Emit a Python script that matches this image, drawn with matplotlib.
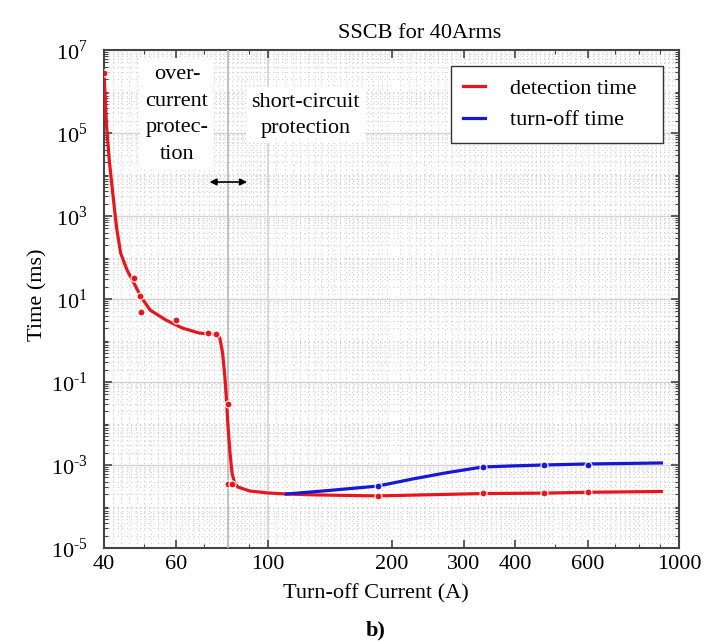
import numpy as np
import matplotlib
matplotlib.use("Agg")
import matplotlib.pyplot as plt
from matplotlib.ticker import FixedLocator, LogLocator, FixedFormatter, NullFormatter

plt.rcParams['font.family'] = ['Liberation Serif', 'DejaVu Serif']
plt.rcParams['mathtext.fontset'] = 'custom'
plt.rcParams['mathtext.rm'] = 'Liberation Serif'
plt.rcParams['font.size'] = 15

# detection time, fitted curve (A, ms)
det_curve_x = [40.0, 40.22, 40.6, 41.2, 42.0, 42.9, 43.9, 45.5, 47.3, 49.2, 51.8, 56.6, 62.0, 68.0,
               71.4, 75.0, 76.5, 77.7, 78.7, 79.4, 80.1, 81.0, 81.9, 83.1, 84.6, 90.5, 99.5, 111, 131,
               185, 333, 469, 602, 906]
det_curve_y = [2.79e6, 9.2e5, 1.4e5, 2.2e4, 3.6e3, 543, 128, 50, 24.3, 11.2, 5.4, 3.1, 2.0, 1.52,
               1.44, 1.43, 1.15, 0.50, 0.132, 0.037, 8.3e-3, 1.95e-3, 6.4e-4, 3.7e-4, 2.95e-4, 2.36e-4,
               2.13e-4, 2.0e-4, 1.9e-4, 1.8e-4, 2.05e-4, 2.1e-4, 2.2e-4, 2.3e-4]
# detection time, measured points
det_pts_x = [40.0, 47.3, 48.9, 49.2, 60.0, 71.5, 75.0, 80.0, 80.3, 82.1, 185, 333, 469, 602]
det_pts_y = [2.8e6, 32, 11.7, 4.9, 3.2, 1.52, 1.44, 0.03, 3.5e-4, 3.5e-4, 1.75e-4, 2.1e-4, 2.1e-4, 2.2e-4]

# turn-off time
off_curve_x = [111, 136, 185, 225, 272, 333, 393, 469, 602, 906]
off_curve_y = [2.0e-4, 2.36e-4, 3.1e-4, 4.6e-4, 6.5e-4, 8.95e-4, 9.5e-4, 1.0e-3, 1.06e-3, 1.12e-3]
off_pts_x = [185, 333, 469, 602]
off_pts_y = [3.1e-4, 8.9e-4, 1.0e-3, 1.02e-3]

xticks = [40, 60, 100, 200, 300, 400, 600, 1000]
xminor = [50, 70, 80, 90, 500, 700, 800, 900]
yexp = [-5, -3, -1, 1, 3, 5, 7]

red = '#e8161c'
blue = '#1717d8'
dotgrid = '#cdcdcd'

fig = plt.figure(figsize=(7.25, 6.41), dpi=100)
ax = fig.add_axes([104/725, 1-548/641, 575/725, 498/641])
ax.set_xscale('log')
ax.set_yscale('log')
ax.set_xlim(40, 1000)
ax.set_ylim(1e-5, 1e7)

# background grid: dense dotted mesh
gx = list(np.arange(42, 100, 2)) + list(np.arange(105, 200, 5)) + list(np.arange(210, 500, 10)) + list(np.arange(520, 1000, 20))
for g in gx:
    ax.axvline(g, color=dotgrid, lw=0.8, ls=(0, (1, 3)), zorder=0)
for k in range(-5, 7):
    for s in range(1, 10):
        v = s * 10.0**k
        if s == 1 and k % 2 == 1:
            ax.axhline(v, color='#d2d2d2', lw=1.0, zorder=0)
        else:
            ax.axhline(v, color=dotgrid, lw=0.8, ls=(0, (1, 3)), zorder=0)
ax.axvline(100, color='#d2d2d2', lw=1.2, zorder=0.5)
ax.axvline(80, color='#c0c0c0', lw=1.4, zorder=3)

ax.plot(det_curve_x, det_curve_y, color=red, lw=2.3, zorder=4, label='detection time',
        solid_joinstyle='round')
ax.plot(off_curve_x, off_curve_y, color=blue, lw=2.3, zorder=4, label='turn-off time',
        solid_joinstyle='round')
ax.plot(det_pts_x, det_pts_y, 'o', color=red, ms=5, mec='white', mew=0.8, zorder=5)
ax.plot(off_pts_x, off_pts_y, 'o', color=blue, ms=5, mec='white', mew=0.8, zorder=5)

ax.xaxis.set_major_locator(FixedLocator(xticks))
ax.xaxis.set_minor_locator(FixedLocator(xminor))
ax.set_xticklabels([str(t) for t in xticks])
ax.xaxis.set_minor_formatter(NullFormatter())
ax.yaxis.set_major_locator(FixedLocator([10.0**k for k in yexp]))
ax.yaxis.set_major_formatter(FixedFormatter(
    [r'$10^{\text{%s}}$' % (('-' if k < 0 else '') + str(abs(k))) for k in yexp]))
ax.yaxis.set_minor_locator(LogLocator(base=10, subs=np.arange(1, 10), numticks=100))
ax.yaxis.set_minor_formatter(NullFormatter())

ax.tick_params(which='both', direction='in', top=True, right=True, color='#444444')
ax.tick_params(which='major', length=6, width=1.2)
ax.tick_params(which='minor', length=3, width=0.8)
ax.tick_params(axis='x', labelsize=16, pad=5)
ax.tick_params(axis='y', labelsize=16, pad=12)
for sp in ax.spines.values():
    sp.set_color('#444444')
    sp.set_linewidth(1.5)

bb = dict(facecolor='white', edgecolor='none', pad=4)
ax.text(60.2, 2.8e5, 'over-\ncurrent\nprotec-\ntion', ha='center', va='center',
        fontsize=16, linespacing=1.55, bbox=bb, zorder=2)
ax.text(123.5, 2.7e5, 'short-circuit\nprotection', ha='center', va='center',
        fontsize=16, linespacing=1.5, bbox=bb, zorder=2)
ax.annotate('', xy=(71.1, 6600), xytext=(90.5, 6600),
            arrowprops=dict(arrowstyle='<|-|>', color='black', lw=1.2, mutation_scale=10), zorder=6)

leg = ax.legend(loc='upper left', bbox_to_anchor=(0.603, 0.829, 0.369, 0.139), mode='expand',
                borderaxespad=0, fontsize=16, handlelength=1.0, handletextpad=1.1, labelspacing=0.5,
                borderpad=0.55, fancybox=False, framealpha=1, edgecolor='#333333')
leg.get_frame().set_linewidth(1.0)
leg.set_zorder(7)

fig.text(420/725, 1-33/641, 'SSCB for 40Arms', ha='center', va='center', fontsize=16)
fig.text(376/725, 1-594/641, 'Turn-off Current (A)', ha='center', va='center', fontsize=16)
fig.text(376/725, 1-630/641, 'b)', ha='center', va='center', fontsize=16, fontweight='bold')
fig.text(38/725, 1-295/641, 'Time (ms)', ha='center', va='center', fontsize=16, rotation=90)

fig.savefig('out.png', dpi=100)
